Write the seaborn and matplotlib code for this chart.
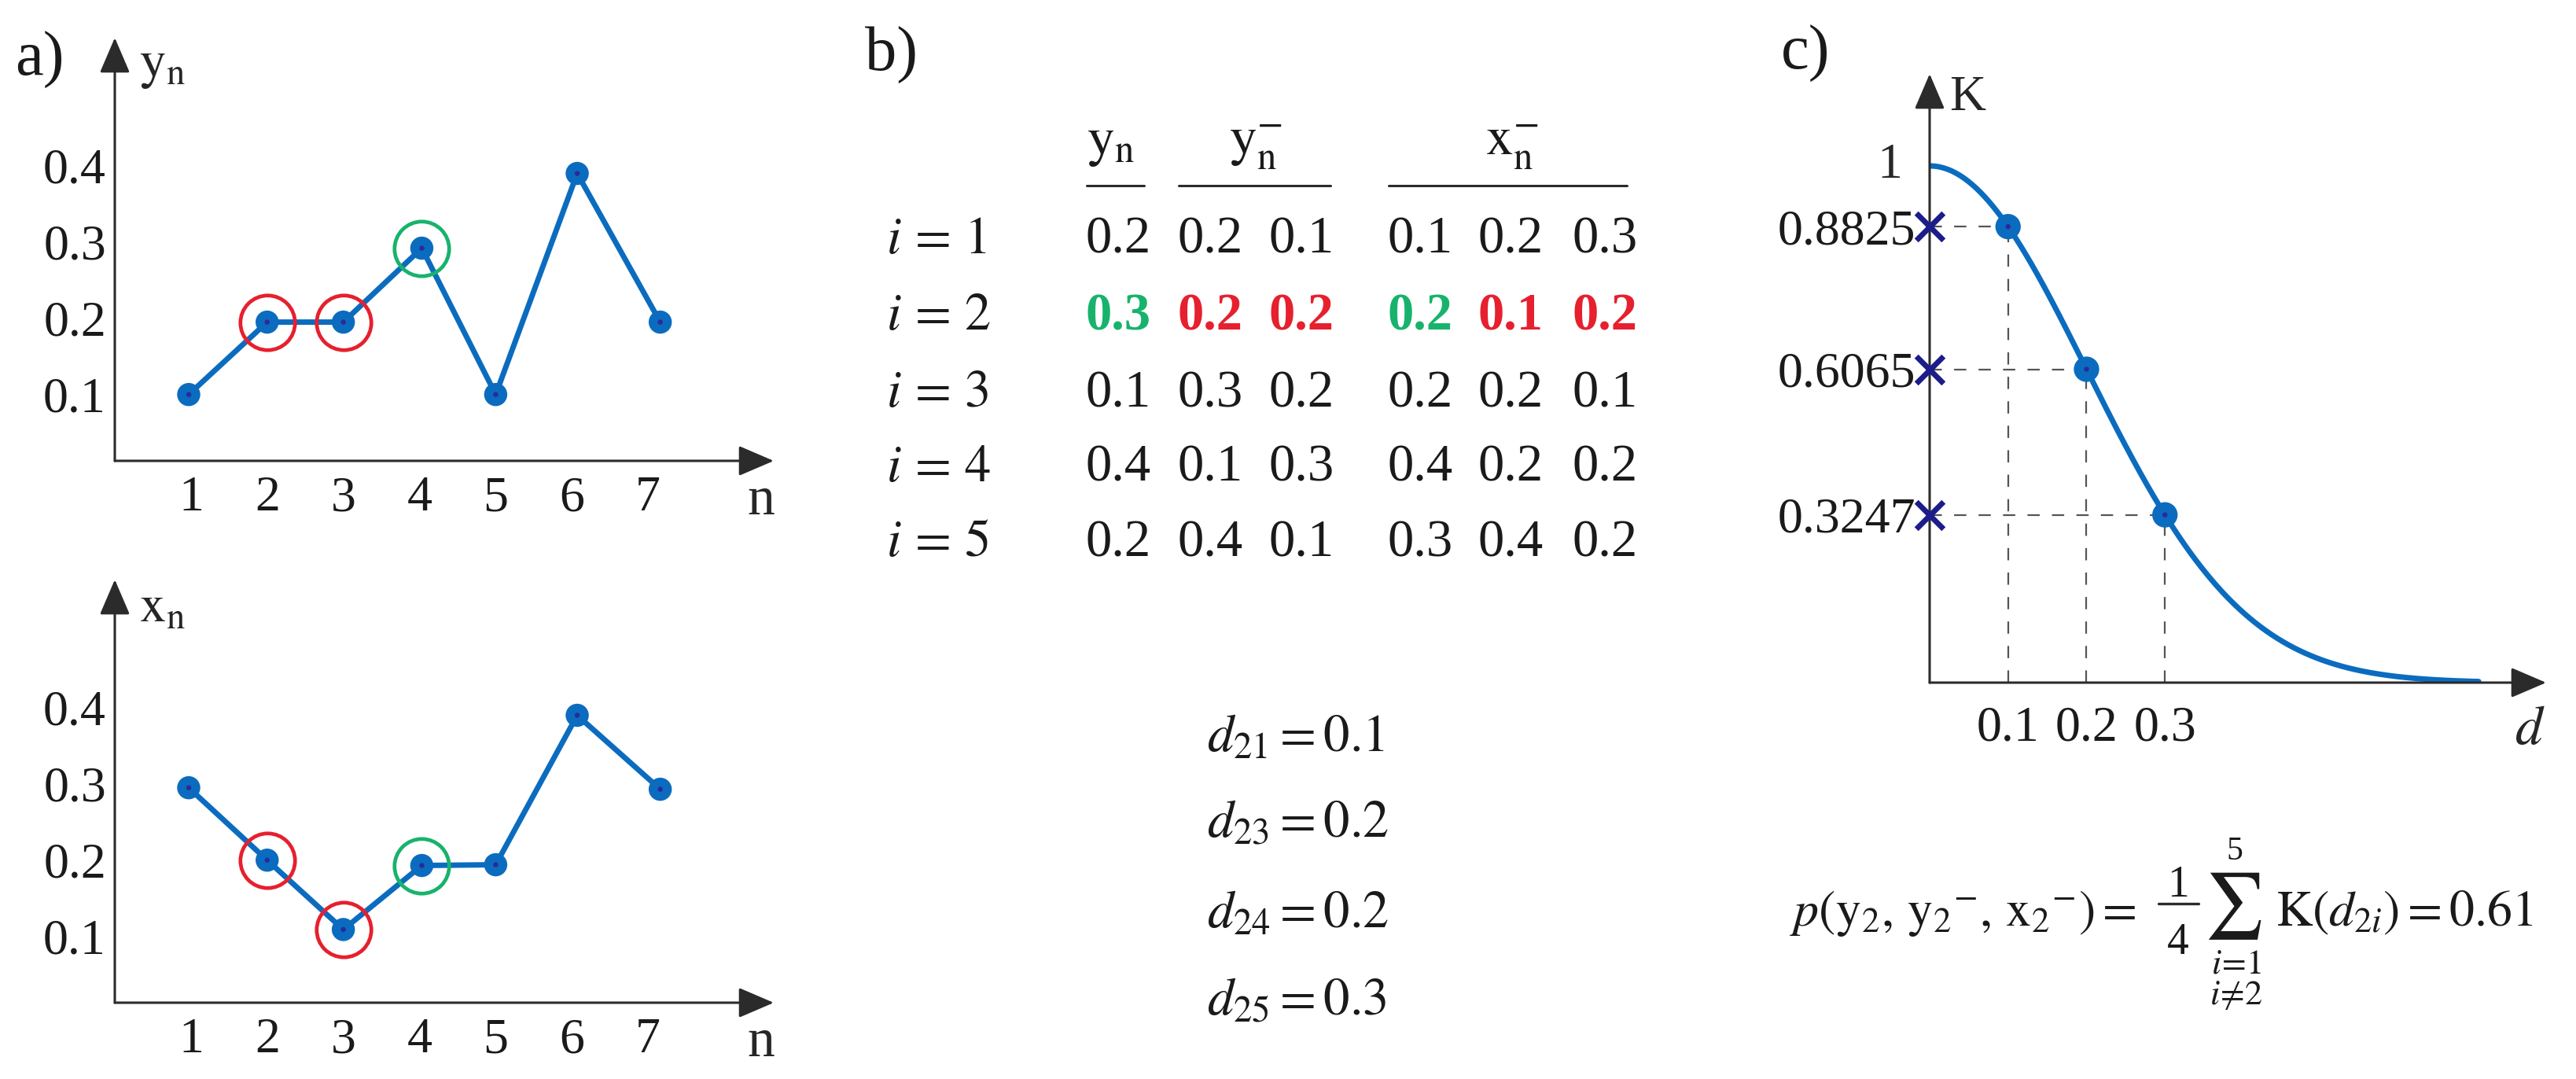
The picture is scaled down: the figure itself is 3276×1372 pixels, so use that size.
import numpy as np
import matplotlib
matplotlib.use('Agg')
import matplotlib.pyplot as plt
from matplotlib.lines import Line2D
import seaborn as sns

# ---- panel a: the two series
n_pos = [0.97, 2.0, 3.0, 4.03, 5.0, 6.07, 7.16]
y_series = [0.10, 0.195, 0.195, 0.292, 0.10, 0.39, 0.195]
x_series = [0.295, 0.20, 0.109, 0.193, 0.194, 0.39, 0.293]
n_ticks = [1, 2, 3, 4, 5, 6, 7]
v_ticks = [0.1, 0.2, 0.3, 0.4]
red_idx = [1, 2]
green_idx = [3]

# ---- panel b: table and distances
row_ids = [1, 2, 3, 4, 5]
tab_yn = [0.2, 0.3, 0.1, 0.4, 0.2]
tab_yn_minus = [[0.2, 0.1], [0.2, 0.2], [0.3, 0.2], [0.1, 0.3], [0.4, 0.1]]
tab_xn_minus = [[0.1, 0.2, 0.3], [0.2, 0.1, 0.2], [0.2, 0.2, 0.1],
                [0.4, 0.2, 0.2], [0.3, 0.4, 0.2]]
hl_row = 1
hl_colors = ['g', 'r', 'r', 'g', 'r', 'r']
d_names = ['21', '23', '24', '25']
d_vals = [0.1, 0.2, 0.2, 0.3]

# ---- panel c: gaussian kernel and the marked points
k_d = [0.1, 0.2, 0.3]
k_vals = [0.8825, 0.6065, 0.3247]
sigma = 0.2
d_max = 0.7
p_result = 0.61

BLUE = '#0b6cbf'
NAVY = '#2a2a9c'
XNAVY = '#1c1c8a'
RED = '#e6202e'
GREEN = '#17b36c'
AXC = '#2b2b2b'
TXT = '#1a1a1a'
CMAP = {'g': GREEN, 'r': RED}

sns.set_theme(style='white')
plt.rcParams['font.family'] = ['Liberation Serif', 'DejaVu Serif']
plt.rcParams['mathtext.fontset'] = 'stix'

W, H = 3276, 1372
fig = plt.figure(figsize=(W / 100, H / 100), dpi=100)
FS = 46      # axis tick labels
TS = 48      # table / equations


def rect(left, top, right, bottom):
    return [left / W, 1 - bottom / H, (right - left) / W, (bottom - top) / H]


def ftext(x, y, s, **kw):
    kw.setdefault('fontsize', TS)
    kw.setdefault('color', TXT)
    fig.text(x / W, 1 - y / H, s, **kw)


def fline(x0, x1, y, lw=2.2):
    fig.add_artist(Line2D([x0 / W, x1 / W], [1 - y / H, 1 - y / H],
                          transform=fig.transFigure, color=AXC, lw=lw))


def arrows(ax):
    kw = dict(arrowstyle='-|>,head_length=0.7,head_width=0.3', color=AXC,
              lw=2.2, shrinkA=0, shrinkB=0, mutation_scale=40)
    ax.annotate('', xy=(1, 0), xytext=(0, 0), xycoords='axes fraction', arrowprops=kw)
    ax.annotate('', xy=(0, 1), xytext=(0, 0), xycoords='axes fraction', arrowprops=kw)
    for s in ax.spines.values():
        s.set_visible(False)


def series_panel(box, series, ylab):
    ax = fig.add_axes(box)
    ax.patch.set_alpha(0)
    sns.lineplot(x=n_pos, y=series, ax=ax, color=BLUE, lw=5, sort=False, zorder=2)
    sns.scatterplot(x=n_pos, y=series, ax=ax, color=BLUE, s=450, edgecolor='none', zorder=3)
    sns.scatterplot(x=n_pos, y=series, ax=ax, color=NAVY, s=22, edgecolor='none', zorder=4)
    for idx, col in ((red_idx, RED), (green_idx, GREEN)):
        ax.plot([n_pos[i] for i in idx], [series[i] for i in idx], 'o', ms=50,
                mfc='none', mec=col, mew=3.4, zorder=5)
    ax.set_xlim(0, 8.65)
    ax.set_ylim(0.013, 0.568)
    ax.set_xticks(n_ticks)
    ax.set_xticklabels([str(v) for v in n_ticks])
    ax.set_yticks(v_ticks)
    ax.set_yticklabels([f'{v:.1f}' for v in v_ticks])
    ax.tick_params(direction='in', length=16, width=1.6, color=AXC, labelsize=FS,
                   labelcolor=TXT)
    ax.tick_params(axis='x', pad=14)
    ax.tick_params(axis='y', pad=8)
    ax.set_xlabel('')
    ax.set_ylabel('')
    arrows(ax)
    ax.annotate('n', xy=(8.48, 0), xycoords=('data', 'axes fraction'), xytext=(0, -14),
                textcoords='offset points', ha='center', va='top', fontsize=FS + 4)
    ax.annotate(ylab, xy=(0, 1), xycoords='axes fraction', xytext=(22, -26),
                textcoords='offset points', ha='left', va='center', fontsize=FS + 2)
    return ax


# ---------------- panel a
series_panel(rect(146, 48, 984, 586), y_series, r'$\mathrm{y}_\mathrm{n}$')
series_panel(rect(146, 737, 984, 1275), x_series, r'$\mathrm{x}_\mathrm{n}$')
ftext(50, 76, 'a)', fontsize=58, ha='center', va='center')

# ---------------- panel b
ftext(1134, 70, 'b)', fontsize=58, ha='center', va='center')
col_x = [1422, 1539, 1655, 1806, 1921, 2041]
row_base = [322, 419, 517, 612, 707]
ftext(1413, 197, r'$\mathrm{y}_\mathrm{n}$', ha='center', va='baseline', fontsize=TS + 2)
ftext(1597, 197, r'$\mathrm{y}_\mathrm{n}^{-}$', ha='center', va='baseline', fontsize=TS + 2)
ftext(1923, 197, r'$\mathrm{x}_\mathrm{n}^{-}$', ha='center', va='baseline', fontsize=TS + 2)
fline(1382, 1455, 236)
fline(1499, 1692, 236)
fline(1766, 2069, 236)
for r, rid in enumerate(row_ids):
    ftext(1127, row_base[r], rf'$i\,=\,{rid}$', ha='left', va='baseline')
    vals = [tab_yn[r]] + tab_yn_minus[r] + tab_xn_minus[r]
    for c, v in enumerate(vals):
        if r == hl_row:
            ftext(col_x[c], row_base[r], f'{v:.1f}', ha='center', va='baseline',
                  color=CMAP[hl_colors[c]], fontweight='bold')
        else:
            ftext(col_x[c], row_base[r], f'{v:.1f}', ha='center', va='baseline')

d_base = [955, 1064, 1179, 1291]
for name, v, yb in zip(d_names, d_vals, d_base):
    ftext(1535, yb, rf'$d_{{{name}}} = {v:.1f}$', ha='left', va='baseline')

# ---------------- panel c
ax = fig.add_axes(rect(2454, 94, 3238, 868))
ax.patch.set_alpha(0)
d_grid = np.linspace(0, d_max, 400)
k_curve = np.exp(-d_grid ** 2 / (2 * sigma ** 2))
sns.lineplot(x=d_grid, y=k_curve, ax=ax, color=BLUE, lw=5, zorder=3)
for dv, kv in zip(k_d, k_vals):
    ax.plot([0, dv], [kv, kv], color='#555555', lw=1.6, ls=(0, (7, 7)), zorder=1)
    ax.plot([dv, dv], [0, kv], color='#555555', lw=1.6, ls=(0, (7, 7)), zorder=1)
sns.scatterplot(x=k_d, y=k_vals, ax=ax, color=BLUE, s=540, edgecolor='none', zorder=4)
sns.scatterplot(x=k_d, y=k_vals, ax=ax, color=NAVY, s=22, edgecolor='none', zorder=5)
ax.scatter([0] * len(k_vals), k_vals, marker='x', s=620, lw=5, color=XNAVY,
           zorder=6, clip_on=False)
ax.set_xlim(0, 0.786)
ax.set_ylim(0, 1.178)
ax.set_xticks(k_d)
ax.set_xticklabels([f'{v:.1f}' for v in k_d])
ax.set_yticks(k_vals)
ax.set_yticklabels([f'{v:.4f}' for v in k_vals])
ax.tick_params(axis='x', direction='in', length=14, width=1.6, color=AXC,
               labelsize=FS, pad=21, labelcolor=TXT)
ax.tick_params(axis='y', length=0, labelsize=FS, pad=13, labelcolor=TXT)
ax.set_xlabel('')
ax.set_ylabel('')
arrows(ax)
ax.text(-0.044, 1.0, '1', transform=ax.get_yaxis_transform(), ha='right',
        va='center', fontsize=FS)
ax.annotate(r'$d$', xy=(0.765, 0), xycoords=('data', 'axes fraction'), xytext=(0, -21),
            textcoords='offset points', ha='center', va='top', fontsize=FS + 4)
ax.annotate('K', xy=(0, 1), xycoords='axes fraction', xytext=(18, -22),
            textcoords='offset points', ha='left', va='center', fontsize=FS)
ftext(2296, 68, 'c)', fontsize=58, ha='center', va='center')

# formula below panel c
ftext(2716, 1177, r'$p(\mathrm{y}_{2},\,\mathrm{y}_{2}{}^{-},\,\mathrm{x}_{2}{}^{-})=$',
      ha='right', va='baseline', fontsize=46)
ftext(2770, 1140, '1', ha='center', va='baseline', fontsize=40)
fline(2745, 2796, 1149, lw=2.4)
ftext(2770, 1213, '4', ha='center', va='baseline', fontsize=40)
ftext(2840, 1152, r'$\sum$', ha='center', va='center', fontsize=60)
ftext(2842, 1083, '5', ha='center', va='center', fontsize=30)
ftext(2844, 1226, r'$i\!=\!1$', ha='center', va='center', fontsize=32)
ftext(2844, 1266, r'$i\!\neq\!2$', ha='center', va='center', fontsize=32)
ftext(2894, 1177, rf'$\mathrm{{K}}(d_{{2i}}) = {p_result:.2f}$', ha='left', va='baseline',
      fontsize=46)

fig.savefig('out.png', dpi=100, facecolor='white')
